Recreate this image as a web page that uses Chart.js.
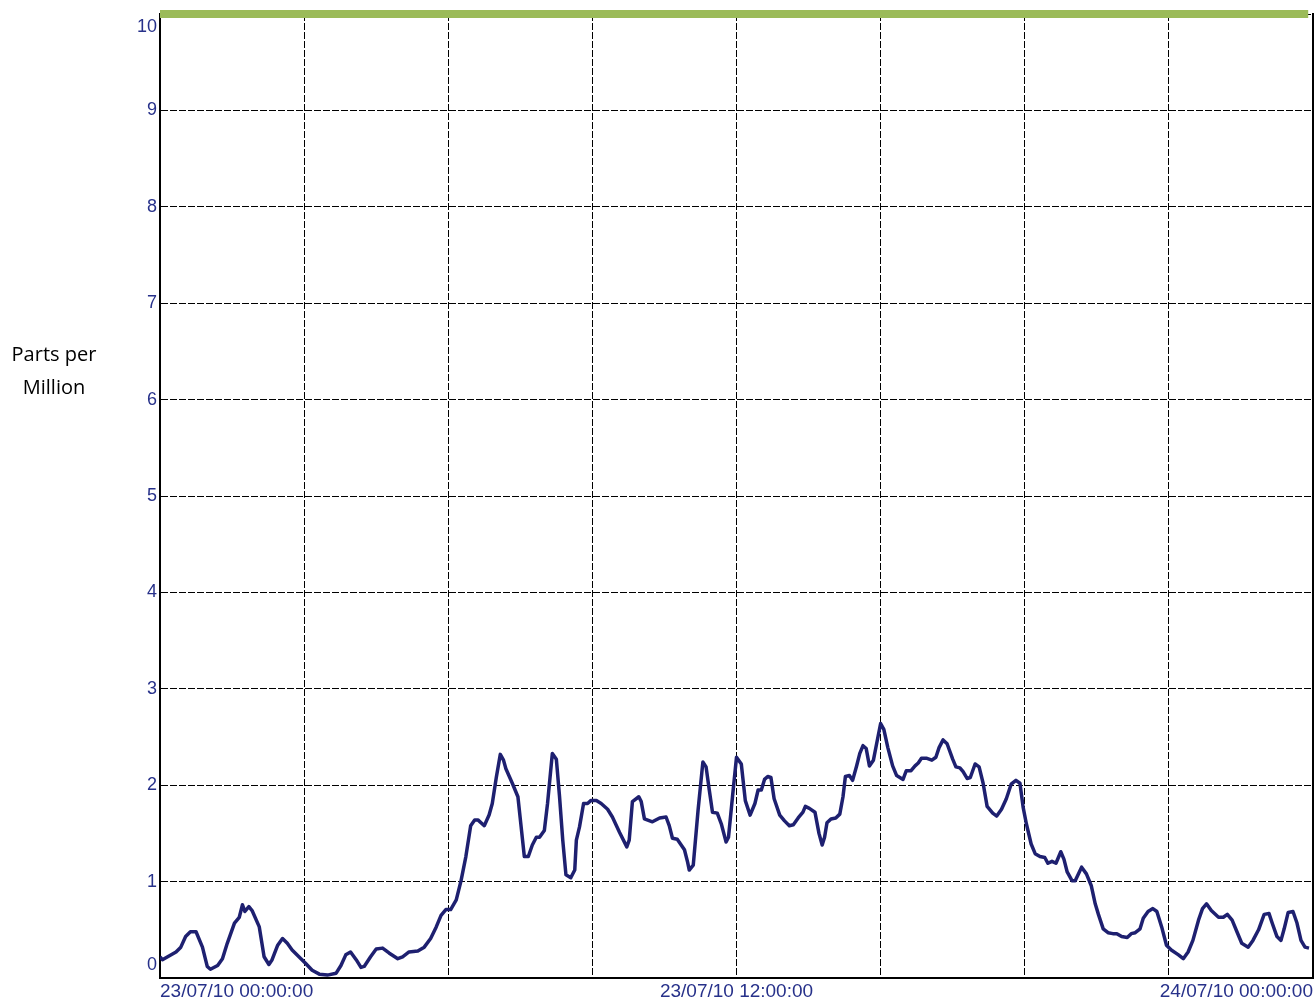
<!DOCTYPE html>
<html>
<head>
<meta charset="utf-8">
<title>Parts per Million</title>
<script src="https://cdn.jsdelivr.net/npm/chart.js@4.4.0/dist/chart.umd.min.js"></script>
<style>
  html, body { margin: 0; padding: 0; background: #fff; }
  #wrap { position: relative; width: 1314px; height: 1003px; }
  #axis-title {
    position: absolute; left: 0; top: 337px; width: 108px;
    text-align: center; font-family: "Open Sans", Lato, sans-serif;
    font-size: 20px; line-height: 33px; color: #000;
  }
</style>
</head>
<body>
<div id="wrap">
  <canvas id="ppm-chart" width="1314" height="1003"></canvas>
  <div id="axis-title">Parts per<br>Million</div>
</div>
<script>
// minutes after 23/07/10 00:00:00
const times = [
  0, 3, 20, 26, 32, 38, 45, 53, 59, 63, 72, 78, 84, 93, 99, 103, 106, 111, 115, 124,
  130, 136, 140, 147, 153, 159, 165, 176, 182, 190, 199, 209, 220, 226, 232, 238, 245, 251, 255, 263,
  270, 278, 286, 297, 303, 311, 322, 330, 338, 345, 351, 357, 363, 370, 376, 382, 388, 393, 397, 405,
  411, 415, 420, 425, 429, 432, 440, 447, 451, 455, 460, 465, 470, 474, 480, 484, 490, 495, 499, 503,
  507, 513, 518, 520, 524, 529, 534, 538, 545, 551, 559, 565, 574, 583, 586, 590, 598, 601, 605, 615,
  624, 632, 636, 640, 646, 655, 659, 661, 666, 672, 678, 682, 686, 690, 696, 701, 707, 710, 715, 720,
  726, 731, 737, 743, 747, 751, 755, 759, 763, 767, 774, 780, 786, 791, 797, 803, 806, 811, 818, 823,
  827, 830, 833, 838, 844, 849, 853, 856, 861, 865, 870, 874, 878, 882, 886, 891, 895, 900, 904, 909,
  915, 920, 928, 932, 938, 943, 947, 951, 957, 964, 969, 973, 978, 983, 990, 994, 999, 1003, 1008, 1012,
  1018, 1023, 1028, 1033, 1040, 1045, 1051, 1057, 1063, 1069, 1074, 1078, 1082, 1088, 1093, 1099, 1105, 1109, 1114, 1119,
  1125, 1129, 1133, 1139, 1143, 1151, 1157, 1163, 1168, 1172, 1178, 1184, 1190, 1195, 1201, 1208, 1213, 1218, 1224, 1228,
  1234, 1240, 1245, 1251, 1257, 1263, 1272, 1278, 1284, 1290, 1297, 1302, 1307, 1313, 1322, 1328, 1333, 1339, 1345, 1351,
  1359, 1365, 1372, 1379, 1385, 1389, 1395, 1400, 1404, 1409, 1415, 1420, 1425, 1430, 1435
];
const ppm = [
  0.22, 0.19, 0.27, 0.32, 0.43, 0.48, 0.48, 0.32, 0.12, 0.09, 0.13, 0.20, 0.36, 0.57, 0.63, 0.76, 0.69, 0.74, 0.70, 0.53,
  0.22, 0.14, 0.19, 0.34, 0.41, 0.36, 0.29, 0.20, 0.15, 0.08, 0.04, 0.03, 0.05, 0.13, 0.24, 0.27, 0.19, 0.11, 0.12, 0.22,
  0.30, 0.31, 0.26, 0.20, 0.22, 0.27, 0.28, 0.32, 0.41, 0.53, 0.65, 0.71, 0.71, 0.81, 1.01, 1.26, 1.58, 1.64, 1.64, 1.58,
  1.69, 1.81, 2.08, 2.32, 2.26, 2.17, 2.02, 1.88, 1.57, 1.26, 1.26, 1.38, 1.46, 1.46, 1.53, 1.81, 2.33, 2.27, 1.88, 1.43,
  1.07, 1.04, 1.12, 1.43, 1.57, 1.81, 1.81, 1.84, 1.84, 1.81, 1.75, 1.67, 1.51, 1.36, 1.43, 1.83, 1.88, 1.83, 1.65, 1.62,
  1.66, 1.67, 1.58, 1.45, 1.44, 1.33, 1.20, 1.12, 1.17, 1.74, 2.24, 2.19, 1.95, 1.72, 1.71, 1.60, 1.41, 1.46, 1.88, 2.29,
  2.22, 1.84, 1.69, 1.81, 1.95, 1.95, 2.06, 2.09, 2.08, 1.86, 1.69, 1.63, 1.58, 1.59, 1.66, 1.72, 1.78, 1.76, 1.72, 1.50,
  1.38, 1.46, 1.61, 1.65, 1.66, 1.70, 1.88, 2.09, 2.10, 2.05, 2.20, 2.33, 2.41, 2.38, 2.20, 2.26, 2.43, 2.64, 2.58, 2.39,
  2.20, 2.10, 2.06, 2.15, 2.15, 2.20, 2.23, 2.28, 2.28, 2.26, 2.29, 2.39, 2.47, 2.43, 2.27, 2.19, 2.18, 2.14, 2.07, 2.08,
  2.22, 2.19, 2.02, 1.78, 1.71, 1.68, 1.75, 1.86, 2.01, 2.05, 2.02, 1.77, 1.60, 1.39, 1.29, 1.26, 1.25, 1.19, 1.21, 1.19,
  1.31, 1.23, 1.10, 1.01, 1.01, 1.15, 1.08, 0.96, 0.77, 0.66, 0.51, 0.47, 0.46, 0.46, 0.43, 0.42, 0.46, 0.47, 0.51, 0.62,
  0.69, 0.72, 0.69, 0.53, 0.34, 0.29, 0.24, 0.20, 0.27, 0.39, 0.60, 0.72, 0.77, 0.70, 0.63, 0.63, 0.66, 0.60, 0.48, 0.36,
  0.32, 0.39, 0.50, 0.66, 0.67, 0.57, 0.43, 0.39, 0.51, 0.68, 0.69, 0.57, 0.39, 0.32, 0.31
];

// green limit line across the top
const limitTimes = [0, 1434];
const limitPpm = [10, 10];

const xTickMinutes = [0, 720, 1440];
const xTickLabels = ['23/07/10 00:00:00', '23/07/10 12:00:00', '24/07/10 00:00:00'];

const labelColor = '#27318a';
const gridDash = [7, 2];

const ctx = document.getElementById('ppm-chart').getContext('2d');
new Chart(ctx, {
  type: 'line',
  data: {
    datasets: [
      {
        label: 'Limit',
        data: limitTimes.map((t, i) => ({ x: t, y: limitPpm[i] })),
        borderColor: '#9bbb59',
        borderWidth: 8,
        pointRadius: 0,
        clip: false,
        borderCapStyle: 'butt'
      },
      {
        label: 'Parts per Million',
        data: times.map((t, i) => ({ x: t, y: ppm[i] })),
        borderColor: '#1e2070',
        borderWidth: 3.5,
        pointRadius: 0,
        tension: 0,
        borderJoinStyle: 'round'
      }
    ]
  },
  options: {
    responsive: false,
    animation: false,
    events: [],
    layout: { padding: { top: 14, left: 0, right: 0, bottom: 0 } },
    plugins: { legend: { display: false }, tooltip: { enabled: false } },
    scales: {
      x: {
        type: 'linear',
        min: 0,
        max: 1440,
        grid: { color: '#000', lineWidth: 1, drawTicks: false },
        border: { display: true, color: '#000', width: 2, dash: gridDash },
        ticks: {
          stepSize: 180,
          autoSkip: false,
          maxRotation: 0,
          minRotation: 0,
          align: 'inner',
          padding: 2,
          color: labelColor,
          font: { family: '"Liberation Sans", Arial, sans-serif', size: 19 },
          callback: (value) => {
            const i = xTickMinutes.indexOf(value);
            return i >= 0 ? xTickLabels[i] : '';
          }
        },
        afterFit: (scale) => {
          scale.height = 25;
          scale.paddingLeft = 0;
          scale.paddingRight = 0;
        }
      },
      y: {
        min: 0,
        max: 10,
        grid: { color: '#000', lineWidth: 1, drawTicks: false },
        border: { display: true, color: '#000', width: 2, dash: gridDash },
        ticks: {
          stepSize: 1,
          padding: 3,
          color: labelColor,
          font: { family: '"Liberation Sans", Arial, sans-serif', size: 18, lineHeight: 1.45 },
          // keep the end labels inside the plot like the original
          callback: (value) => {
            if (value === 10) return ['', '10'];
            if (value === 0) return ['0', ''];
            return String(value);
          }
        },
        afterFit: (scale) => {
          scale.width = 160;
          scale.paddingTop = 0;
          scale.paddingBottom = 0;
        }
      },
      yRight: {
        type: 'linear',
        position: 'right',
        min: 0,
        max: 10,
        grid: { display: false, drawTicks: false },
        border: { display: true, color: '#000', width: 2 },
        ticks: { display: false },
        afterFit: (scale) => {
          scale.width = 1;
          scale.paddingTop = 0;
          scale.paddingBottom = 0;
        }
      }
    }
  }
});
</script>
</body>
</html>
